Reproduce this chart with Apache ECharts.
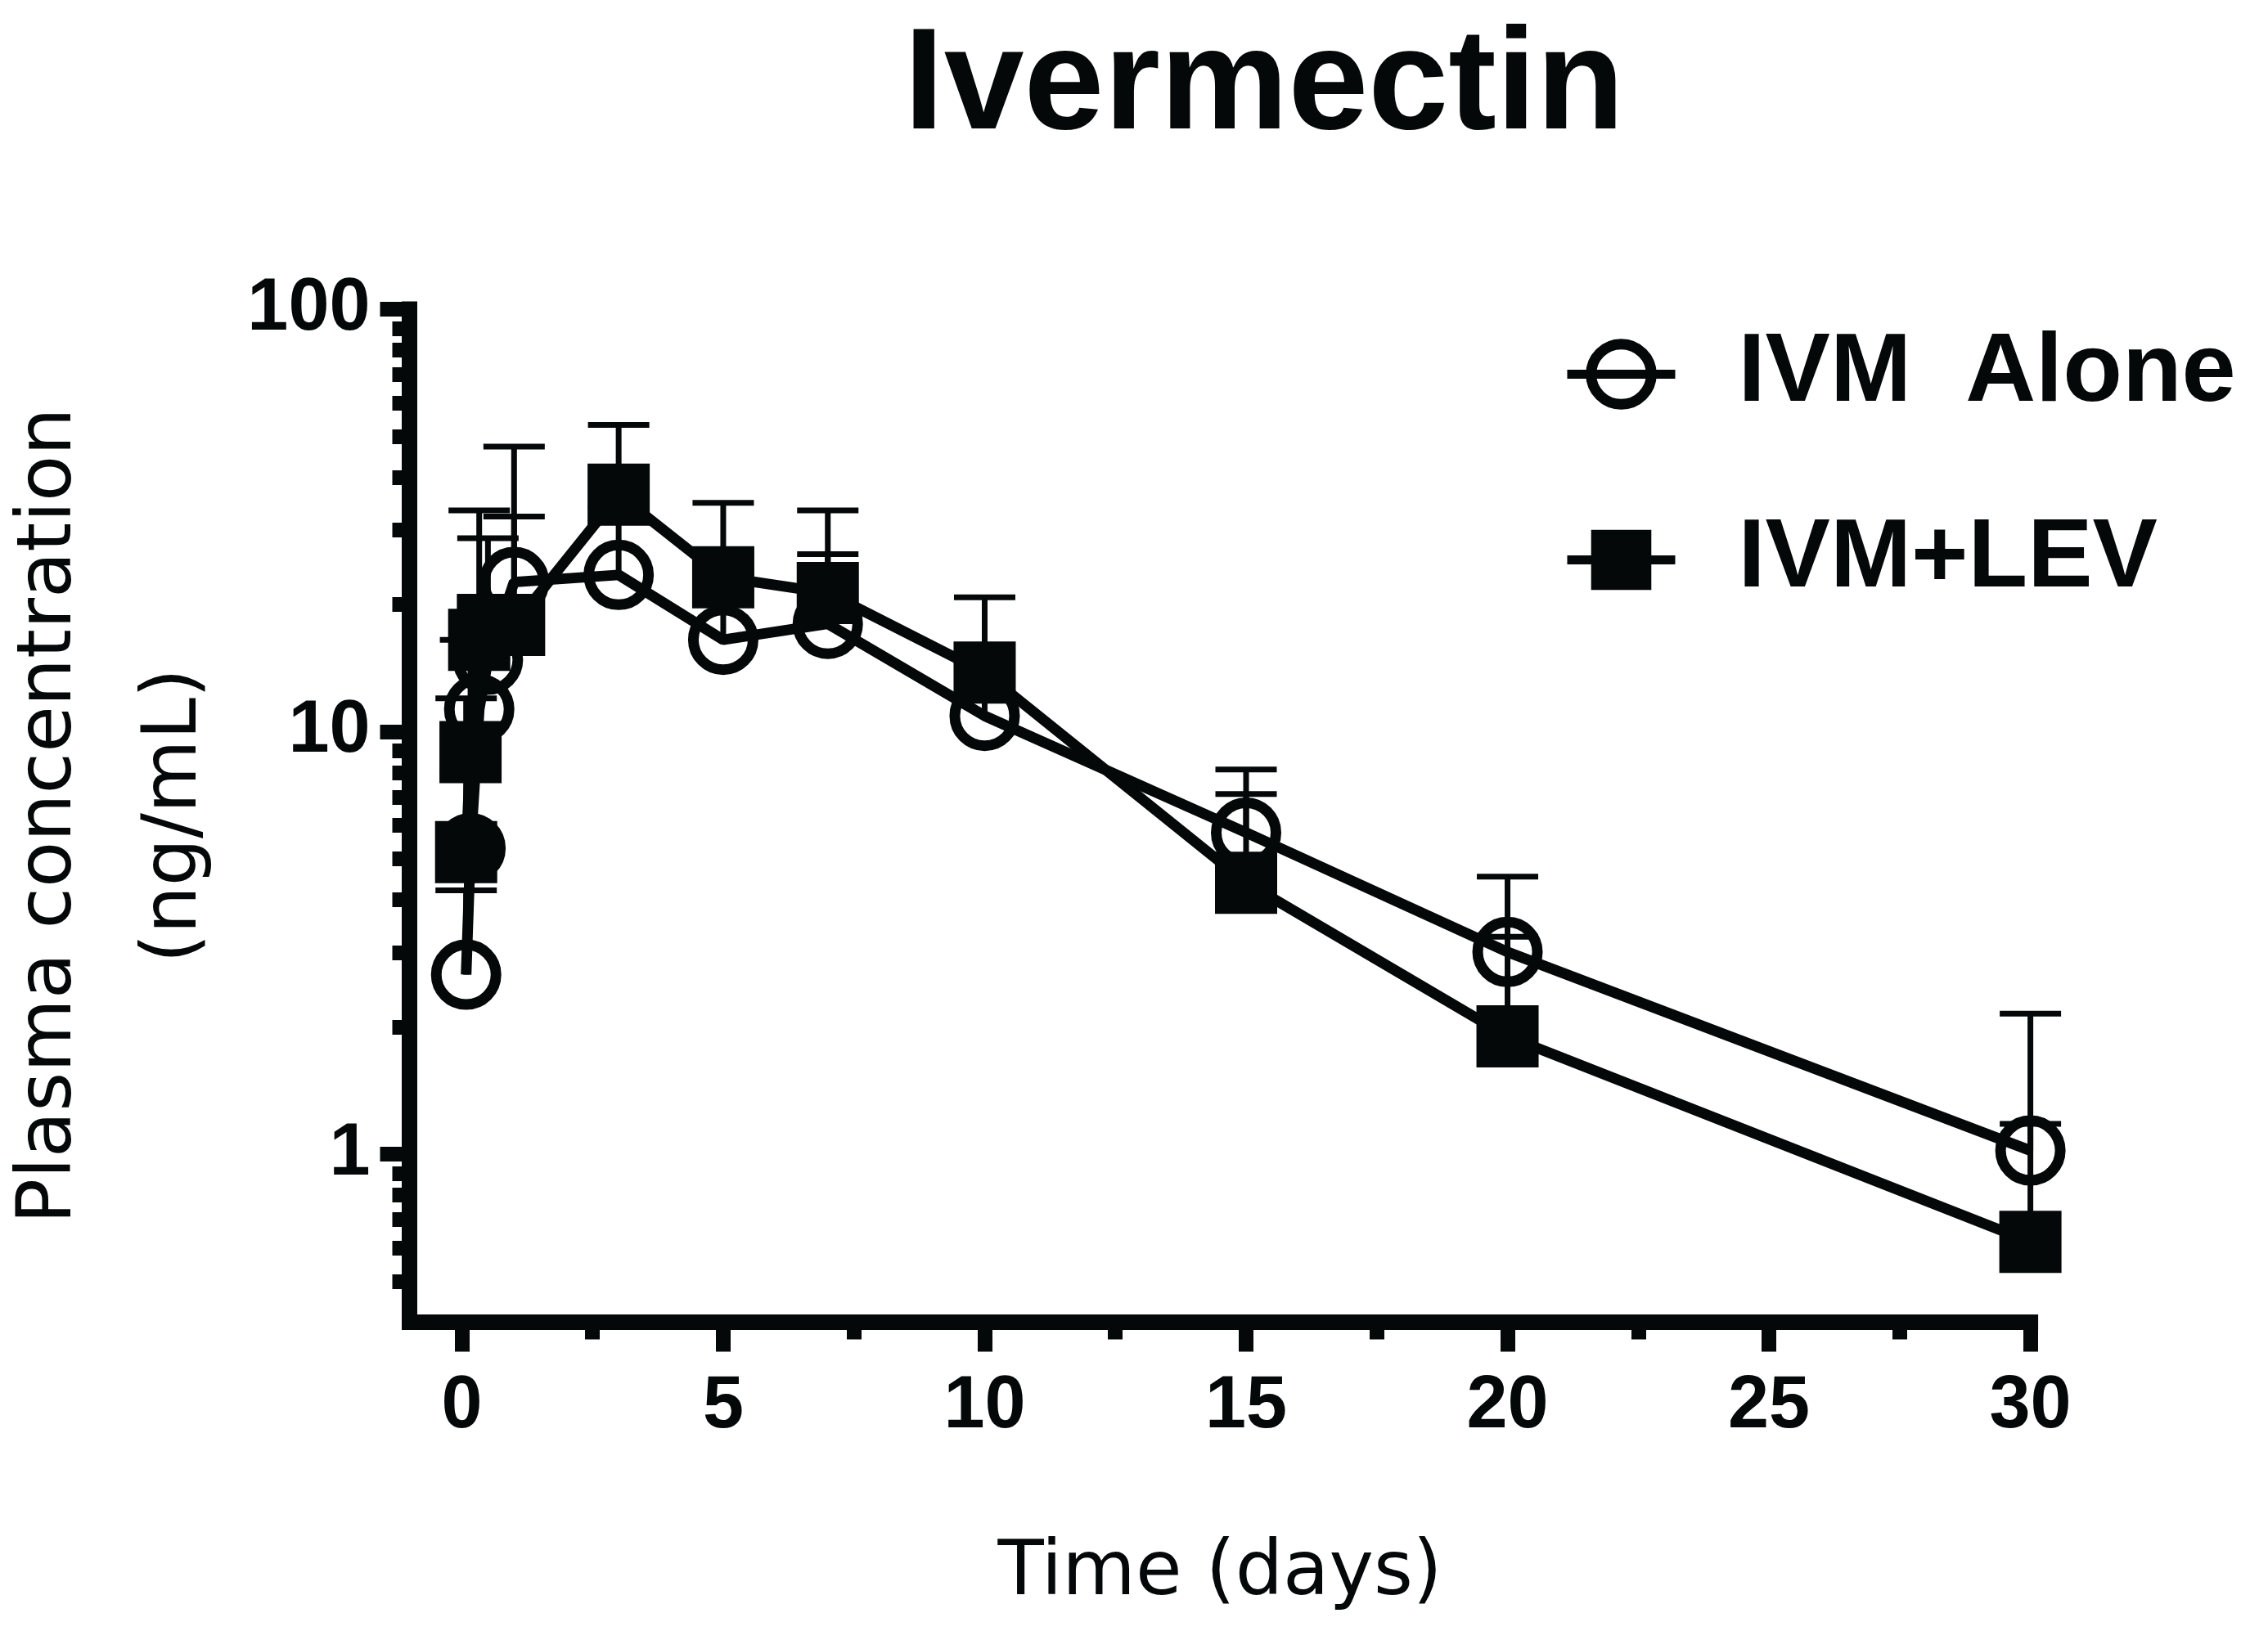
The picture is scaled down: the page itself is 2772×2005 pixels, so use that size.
<!DOCTYPE html>
<html>
<head>
<meta charset="utf-8">
<title>Ivermectin</title>
<script src="https://cdn.jsdelivr.net/npm/echarts@6/dist/echarts.min.js"></script>
<style>
  html, body { margin: 0; padding: 0; background: #fff; }
  #chart { width: 2772px; height: 2005px; }
</style>
</head>
<body>
<div id="chart"></div>
<script>
// sampling times in days (2 h, 4 h, 8 h, 12 h, then days)
const timeDays = [0.083, 0.167, 0.333, 0.5, 1, 3, 5, 7, 10, 15, 20, 30];

// plasma concentration, ng/mL (mean) and top of the error bar (mean + SD)
const ivmAlone = [2.66, 5.3, 11.3, 14.8, 22.6, 23.5, 16.5, 18.0, 10.9, 5.77, 3.01, 1.02];
const ivmAloneUpper = [4.21, 8.0, 15.0, 19.0, 47.3, 34.0, 24.0, 26.3, 14.5, 8.14, 4.54, 2.15];
const ivmLev = [5.19, 8.95, 16.5, 17.9, 17.9, 36.4, 23.2, 21.3, 13.8, 4.39, 1.90, 0.62];
const ivmLevUpper = [12.0, 16.5, 33.4, 28.7, 32.3, 53.2, 34.8, 33.4, 20.8, 7.12, 3.27, 1.18];

// axis ticks
const xMajorTicks = [0, 5, 10, 15, 20, 25, 30];
const xMinorTicks = [2.5, 7.5, 12.5, 17.5, 22.5, 27.5];
const yMajorTicks = [1, 10, 100];
const yMinorTicks = [0.5, 0.6, 0.7, 0.8, 0.9, 2, 3, 4, 5, 6, 7, 8, 9, 20, 30, 40, 50, 60, 70, 80, 90];

const ink = '#050808';
const lg = v => Math.log10(v);

// y axis is drawn in log10 units
function points(vals) {
  return timeDays.map((t, i) => [t, lg(vals[i])]);
}
function bars(vals, upper) {
  return timeDays.map((t, i) => [t, lg(vals[i]), lg(upper[i])]);
}

function renderErrorBar(params, api) {
  const x = api.value(0);
  const base = api.coord([x, api.value(1)]);
  const top = api.coord([x, api.value(2)]);
  const half = 37.5;
  return {
    type: 'group',
    children: [
      { type: 'line', shape: { x1: base[0], y1: base[1], x2: top[0], y2: top[1] },
        style: { stroke: ink, lineWidth: 7 } },
      { type: 'line', shape: { x1: top[0] - half, y1: top[1], x2: top[0] + half, y2: top[1] },
        style: { stroke: ink, lineWidth: 7 } }
    ]
  };
}

const myChart = echarts.init(document.getElementById('chart'), null, { renderer: 'canvas' });

const option = {
  animation: false,
  backgroundColor: '#fff',
  title: {
    text: 'Ivermectin',
    left: 1545,
    top: 20,
    textAlign: 'center',
    padding: 0,
    textStyle: { fontFamily: 'Liberation Sans', fontWeight: 'bold', fontSize: 176, color: ink }
  },
  legend: {
    orient: 'vertical',
    left: 1910,
    top: 398,
    padding: 0,
    itemWidth: 132,
    itemHeight: 92,
    itemGap: 108,
    selectedMode: false,
    lineStyle: { width: 11 },
    textStyle: {
      fontFamily: 'Liberation Sans', fontWeight: 'bold', fontSize: 119, color: ink,
      padding: [0, 0, 0, 72]
    },
    data: [
      { name: 'IVM  Alone', itemStyle: { borderWidth: 13 } },
      { name: 'IVM+LEV', itemStyle: { borderWidth: 0 } }
    ]
  },
  grid: {
    left: 500.5,
    right: 290.4,
    top: 378,
    bottom: 388.4,
    containLabel: false,
    outerBoundsMode: 'none'
  },
  xAxis: [
    {
      type: 'value',
      min: -1,
      max: 30,
      position: 'bottom',
      name: 'Time (days)',
      nameLocation: 'middle',
      nameGap: 262,
      nameTextStyle: { fontFamily: 'DejaVu Sans', fontSize: 92, color: ink },
      axisLine: { show: true, onZero: false, lineStyle: { color: ink, width: 19, cap: 'square' } },
      axisTick: { show: true, customValues: xMajorTicks, length: 36, lineStyle: { color: ink, width: 18 } },
      axisLabel: {
        customValues: xMajorTicks, margin: 59,
        fontFamily: 'Liberation Sans', fontWeight: 'bold', fontSize: 90, color: ink
      },
      splitLine: { show: false }
    },
    {
      type: 'value',
      min: -1,
      max: 30,
      position: 'bottom',
      axisLine: { show: false, onZero: false },
      axisTick: { show: true, customValues: xMinorTicks, length: 21, lineStyle: { color: ink, width: 18 } },
      axisLabel: { show: false },
      splitLine: { show: false }
    }
  ],
  yAxis: [
    {
      type: 'value',
      min: lg(0.4),
      max: 2,
      position: 'left',
      name: 'Plasma concentration\n(ng/mL)',
      nameLocation: 'middle',
      nameRotate: 90,
      nameGap: 181,
      nameTextStyle: { fontFamily: 'DejaVu Sans', fontSize: 92, lineHeight: 153, color: ink },
      axisLine: { show: true, onZero: false, lineStyle: { color: ink, width: 19, cap: 'square' } },
      axisTick: { show: true, customValues: yMajorTicks.map(lg), length: 36, lineStyle: { color: ink, width: 18 } },
      axisLabel: {
        customValues: yMajorTicks.map(lg), margin: 48,
        fontFamily: 'Liberation Sans', fontWeight: 'bold', fontSize: 90, color: ink,
        formatter: v => String(Math.round(Math.pow(10, v)))
      },
      splitLine: { show: false }
    },
    {
      type: 'value',
      min: lg(0.4),
      max: 2,
      position: 'left',
      axisLine: { show: false, onZero: false },
      axisTick: { show: true, customValues: yMinorTicks.map(lg), length: 21, lineStyle: { color: ink, width: 18 } },
      axisLabel: { show: false },
      splitLine: { show: false }
    }
  ],
  series: [
    {
      name: 'IVM  Alone',
      type: 'line',
      data: points(ivmAlone),
      clip: false,
      symbol: 'circle',
      symbolSize: 73,
      lineStyle: { color: ink, width: 13 },
      itemStyle: { color: 'rgba(0,0,0,0)', borderColor: ink, borderWidth: 13 },
      emphasis: { disabled: true }
    },
    {
      name: 'IVM+LEV',
      type: 'line',
      data: points(ivmLev),
      clip: false,
      symbol: 'rect',
      symbolSize: 76,
      lineStyle: { color: ink, width: 13 },
      itemStyle: { color: ink, borderWidth: 0 },
      emphasis: { disabled: true }
    },
    {
      name: 'IVM Alone SD',
      type: 'custom',
      renderItem: renderErrorBar,
      data: bars(ivmAlone, ivmAloneUpper),
      encode: { x: 0, y: [1, 2] },
      clip: false,
      silent: true
    },
    {
      name: 'IVM+LEV SD',
      type: 'custom',
      renderItem: renderErrorBar,
      data: bars(ivmLev, ivmLevUpper),
      encode: { x: 0, y: [1, 2] },
      clip: false,
      silent: true
    }
  ]
};

myChart.setOption(option);
</script>
</body>
</html>
